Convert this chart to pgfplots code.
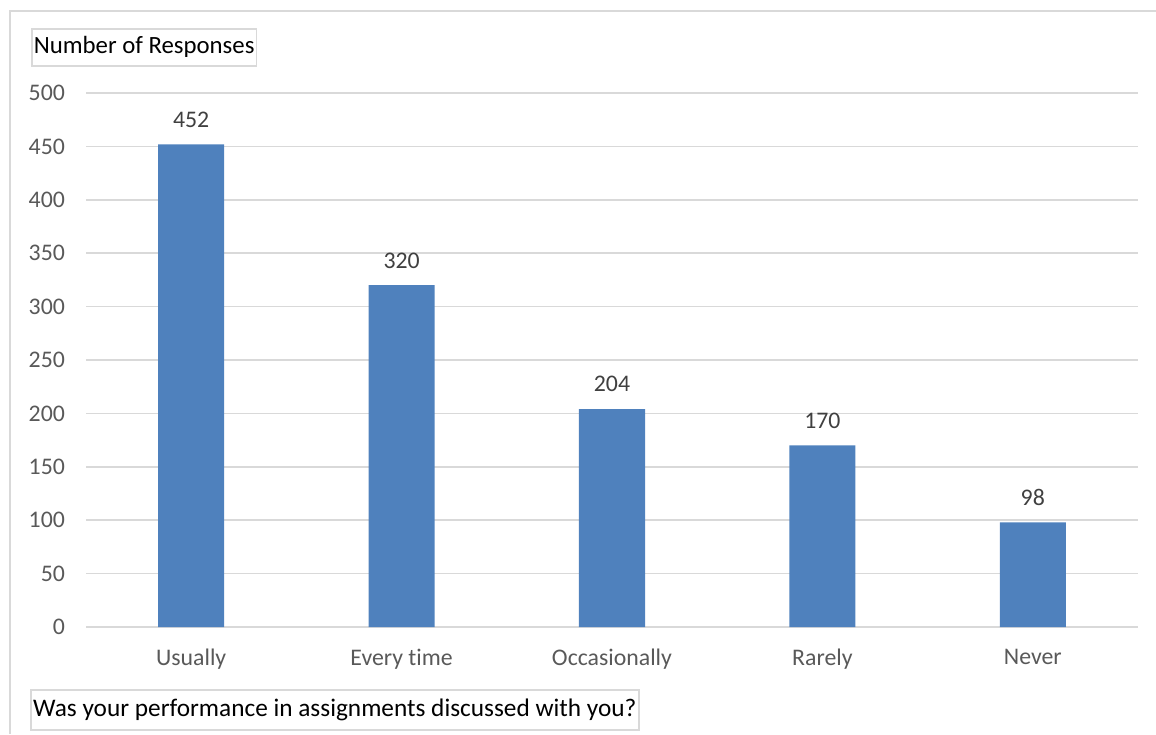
\documentclass[border=0pt]{standalone}
\usepackage{pgfplots}
\pgfplotsset{compat=1.18}
\usepackage{fontspec}
\setmainfont{Carlito}[Ligatures=NoCommon]
\definecolor{barblue}{HTML}{4F81BD}
\definecolor{gridgray}{HTML}{D9D9D9}
\definecolor{ticktext}{HTML}{595959}
\definecolor{labtext}{HTML}{404040}
\begin{document}
\begin{tikzpicture}
\useasboundingbox (0,0) rectangle (578pt,367pt);
\draw[gridgray, line width=1pt] (5pt,0pt) -- (5pt,361.5pt) -- (578pt,361.5pt);
\begin{axis}[
  at={(43pt,53.5pt)}, anchor=south west,
  scale only axis,
  width=526pt, height=267pt,
  xmin=-0.5, xmax=4.5,
  ymin=0, ymax=500,
  ytick={0,50,...,500},
  xtick={0,1,2,3,4},
  xticklabels={Usually,Every time,Occasionally,Rarely,Never},
  ybar, bar width=0.314,
  axis line style={draw=none},
  axis x line*=bottom,
  x axis line style={draw=gridgray, line width=0.8pt},
  major tick length=0pt,
  ymajorgrids, grid style={gridgray, line width=0.8pt},
  tick label style={font=\fontsize{11.9}{14}\selectfont, text=ticktext},
  /pgf/number format/assume math mode=true,
  yticklabel style={xshift=-7pt},
  xticklabel style={yshift=-7.5pt},
  nodes near coords,
  nodes near coords style={font=\fontsize{11.9}{14}\selectfont, text=labtext, yshift=5pt},
  clip=false,
]
\addplot[fill=barblue, draw=none] coordinates {(0,452) (1,320) (2,204) (3,170) (4,98)};
\end{axis}
\node[draw=gridgray, line width=0.8pt, anchor=north west, inner xsep=1pt, inner ysep=0pt, font=\fontsize{12.4}{14}\selectfont, minimum height=18.5pt] at (15.5pt,353pt) {Number of Responses};
\node[draw=gridgray, line width=0.8pt, anchor=north west, inner xsep=1.2pt, inner ysep=0pt, font=\fontsize{12.65}{14}\selectfont, minimum height=20pt] at (15pt,22.5pt) {Was your performance in assignments discussed with you?};
\end{tikzpicture}
\end{document}
